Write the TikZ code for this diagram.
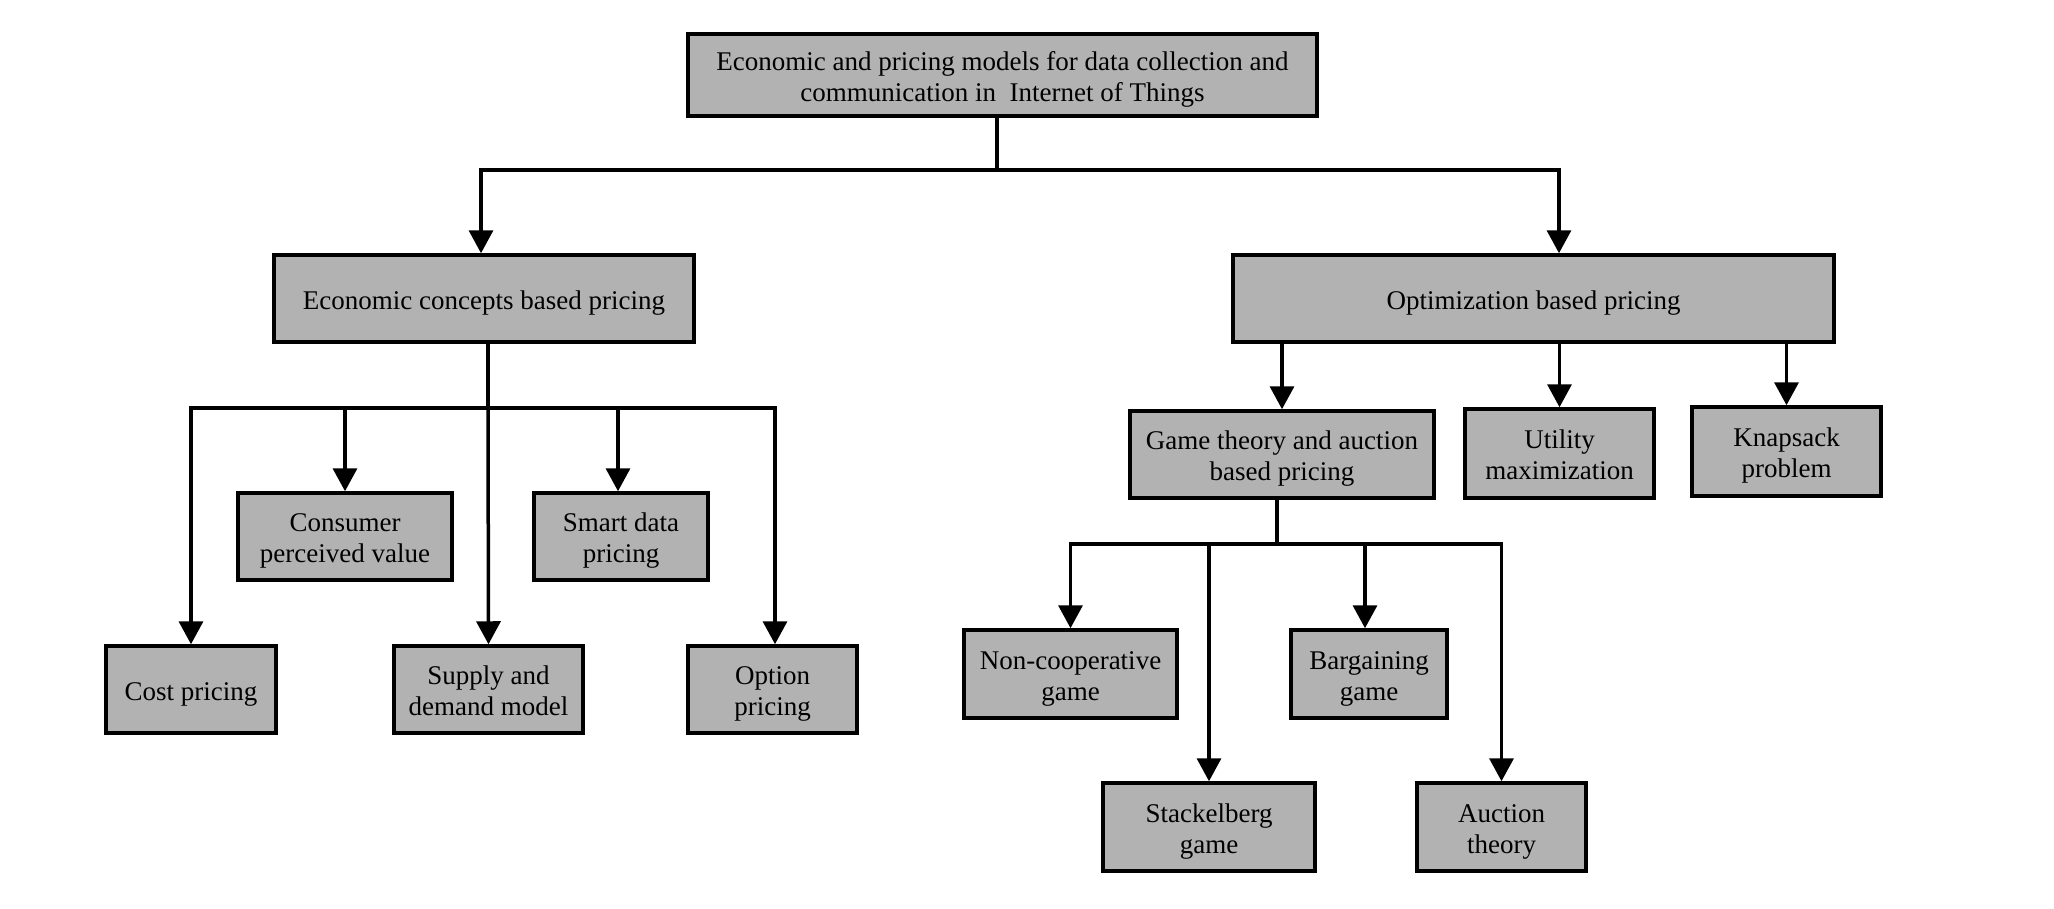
\documentclass[tikz,border=0pt]{standalone}
\usepackage{fontspec}
\setmainfont{Liberation Serif}
\usetikzlibrary{arrows.meta,calc}
\definecolor{boxgray}{RGB}{178,178,178}
\newcommand\bt[1]{\raisebox{-4.5pt}[\height][\depth]{\begin{tabular}{@{}c@{}}#1\end{tabular}}}
\tikzset{
  bx/.style={draw=black, line width=3.5pt, fill=boxgray, inner sep=0pt,
    align=center, font=\fontsize{27}{31}\selectfont, text=black},
  ln/.style={draw=black, line width=3.5pt},
  arr/.style={ln, -{Triangle[width=24pt,length=23pt]}}
}
\begin{document}
\begin{tikzpicture}[x=1pt,y=-1pt]
\useasboundingbox (0,0) rectangle (2054,908);
% nodes
\node[bx, minimum width=629pt, minimum height=82pt] (top) at (1002.5,75)
  {\bt{Economic and pricing models for data collection and\\communication in~ Internet of Things}};
\node[bx, minimum width=420pt, minimum height=87pt] (econ) at (484,298.5) {\bt{Economic concepts based pricing}};
\node[bx, minimum width=601pt, minimum height=87pt] (opt) at (1533.5,298.5) {\bt{Optimization based pricing}};
\node[bx, minimum width=170pt, minimum height=87pt] (cost) at (191,689.5) {\bt{Cost pricing}};
\node[bx, minimum width=214pt, minimum height=87pt] (cons) at (345,536.5) {\bt{Consumer\\perceived value}};
\node[bx, minimum width=189pt, minimum height=87pt] (supply) at (488.5,689.5) {\bt{Supply and\\demand model}};
\node[bx, minimum width=174pt, minimum height=87pt] (smart) at (621,536.5) {\bt{Smart data\\pricing}};
\node[bx, minimum width=169pt, minimum height=87pt] (option) at (772.5,689.5) {\bt{Option\\pricing}};
\node[bx, minimum width=304pt, minimum height=87pt] (game) at (1282,454.5) {\bt{Game theory and auction\\based pricing}};
\node[bx, minimum width=189pt, minimum height=89pt] (util) at (1559.5,453.5) {\bt{Utility\\maximization}};
\node[bx, minimum width=189pt, minimum height=89pt] (knap) at (1786.5,451.5) {\bt{Knapsack\\problem}};
\node[bx, minimum width=213pt, minimum height=88pt] (noncoop) at (1070.5,674) {\bt{Non-cooperative\\game}};
\node[bx, minimum width=156pt, minimum height=88pt] (barg) at (1369,674) {\bt{Bargaining\\game}};
\node[bx, minimum width=212pt, minimum height=88pt] (stack) at (1209,827) {\bt{Stackelberg\\game}};
\node[bx, minimum width=169pt, minimum height=88pt] (auct) at (1501.5,827) {\bt{Auction\\theory}};
% level 1
\coordinate (b1) at (997,170);
\draw[ln] (top.south -| b1) -- (b1);
\draw[arr] (b1) -| ([xshift=-3pt]econ.north);
\draw[arr] (b1) -| ([xshift=25.5pt]opt.north);
% economic branch
\coordinate (b2) at (488,408);
\draw[ln] (econ.south -| b2) -- (b2);
\draw[arr] (b2) -| (cost.north);
\draw[arr] (b2) -| (cons.north);
\draw[arr] (b2) -- (supply.north);
\draw[arr] (b2) -| ([xshift=-3pt]smart.north);
\draw[arr] (b2) -| ([xshift=2.5pt]option.north);
% optimization branch
\draw[arr] (opt.south -| game.north) -- (game.north);
\draw[arr] (opt.south -| util.north) -- (util.north);
\draw[arr] (opt.south -| knap.north) -- (knap.north);
% game branch
\coordinate (b3) at (1277,544);
\draw[ln] (game.south -| b3) -- (b3);
\draw[arr] (b3) -| (noncoop.north);
\draw[arr] (b3) -| (stack.north);
\draw[arr] (b3) -| ([xshift=-4pt]barg.north);
\draw[arr] (b3) -| (auct.north);
\end{tikzpicture}
\end{document}
